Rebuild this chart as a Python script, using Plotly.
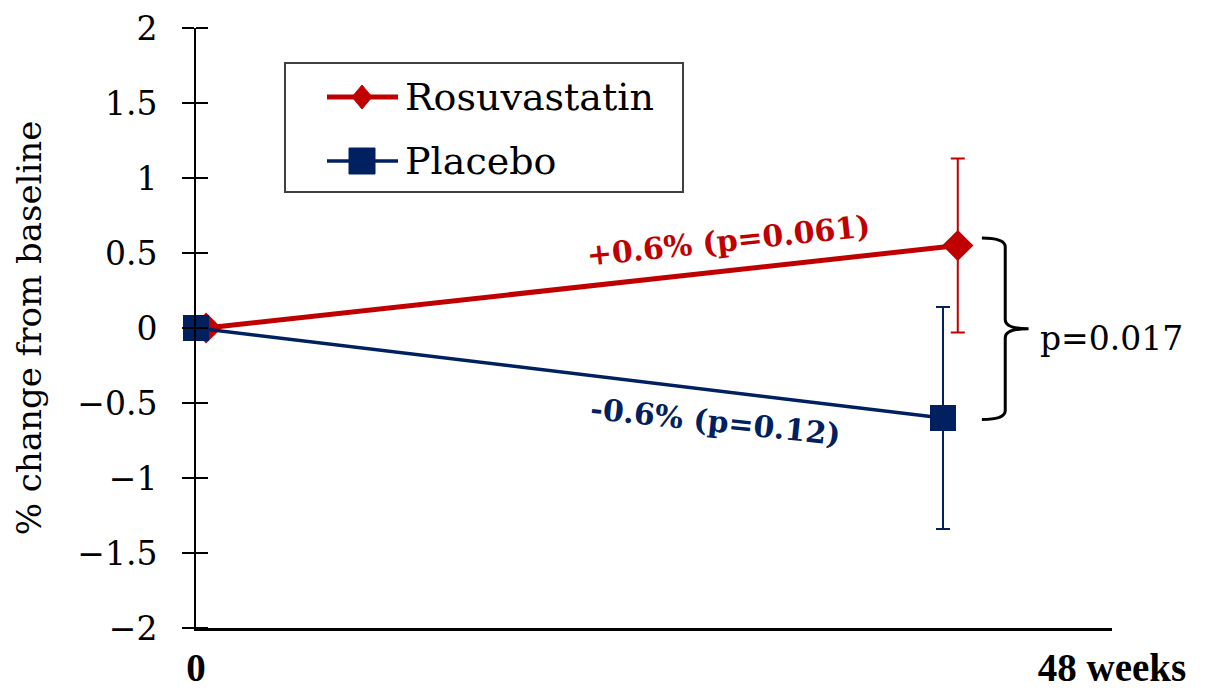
import plotly.graph_objects as go

# ---------------- data ----------------
TIMEPOINTS = [0, 48]                 # weeks
X_TICK_TEXT = ["0", "48 weeks"]
ROSU_MEAN = [0.0, 0.55]
ROSU_ERR = [None, 0.58]
PLAC_MEAN = [0.0, -0.60]
PLAC_ERR = [None, 0.74]
SERIES_NAMES = ["Rosuvastatin", "Placebo"]
ROSU_NOTE = "+0.6% (p=0.061)"
PLAC_NOTE = "-0.6% (p=0.12)"
DIFF_NOTE = "p=0.017"
Y_TICKS = [-2, -1.5, -1, -0.5, 0, 0.5, 1, 1.5, 2]
Y_TITLE = "% change from baseline"

# ---------------- style / geometry ----------------
RED = "#C00000"
NAVY = "#002060"
PAGE_OFF = 8                      # default body margin of the html page
W, H = 1212 - PAGE_OFF, 691 - PAGE_OFF
# plot area in page pixels: x 196..1112, y 28..628
ML, MT = 196 - PAGE_OFF, 28 - PAGE_OFF
MR, MB = 1212 - 1112, 691 - 628
PW, PH = W - ML - MR, H - MT - MB
X_END = 58.86                     # axis runs a bit past the last visit
ROSU_SHIFT = [0.65, 0.95]         # small horizontal dodge of the red series
SERIF = "DejaVu Serif"


def px_x(px):
    """page pixel -> paper fraction"""
    return (px - PAGE_OFF - ML) / PW


def px_y(py):
    return (H - MB - (py - PAGE_OFF)) / PH


x_rosu = [t + s for t, s in zip(TIMEPOINTS, ROSU_SHIFT)]

fig = go.Figure()
fig.add_trace(go.Scatter(
    x=x_rosu, y=ROSU_MEAN, name=SERIES_NAMES[0], mode="lines+markers",
    line=dict(color=RED, width=5),
    marker=dict(symbol="diamond", size=24, color=RED),
    error_y=dict(type="data", array=ROSU_ERR, visible=True, color=RED,
                 thickness=2, width=7),
    showlegend=False, cliponaxis=False))
fig.add_trace(go.Scatter(
    x=TIMEPOINTS, y=PLAC_MEAN, name=SERIES_NAMES[1], mode="lines+markers",
    line=dict(color=NAVY, width=3.5),
    marker=dict(symbol="square", size=26, color=NAVY),
    error_y=dict(type="data", array=PLAC_ERR, visible=True, color=NAVY,
                 thickness=2, width=7),
    showlegend=False, cliponaxis=False))

shapes = []
# legend box
shapes.append(dict(type="rect", xref="paper", yref="paper",
                   x0=px_x(285), x1=px_x(683), y0=px_y(192), y1=px_y(63),
                   line=dict(color="#404040", width=2), fillcolor="white"))
legend_rows = [(97, RED, 5, "M -10,0 L 0,12 L 10,0 L 0,-12 Z"),
               (161, NAVY, 3.5, "M -13,-13 L 13,-13 L 13,13 L -13,13 Z")]
annotations = []
for (py, col, lw, sym), name in zip(legend_rows, SERIES_NAMES):
    shapes.append(dict(type="line", xref="paper", yref="paper",
                       x0=px_x(327), x1=px_x(398), y0=px_y(py), y1=px_y(py),
                       line=dict(color=col, width=lw)))
    shapes.append(dict(type="path", xref="paper", yref="paper",
                       xsizemode="pixel", ysizemode="pixel",
                       xanchor=px_x(362), yanchor=px_y(py), path=sym,
                       fillcolor=col, line=dict(color=col, width=1)))
    annotations.append(dict(xref="paper", yref="paper", x=px_x(404), y=px_y(py),
                            xanchor="left", yanchor="middle", showarrow=False,
                            borderpad=0,
                            text=name, font=dict(family=SERIF, size=38, color="black")))

# bracket linking the two 48-week values
yt = ROSU_MEAN[1] + 0.05
yb = PLAC_MEAN[1] - 0.01
ym = (yt + yb) / 2
bx0, bx1, bx2 = 50.5, 52.0, 53.5
r = 0.06
path = (f"M {bx0},{yt} Q {bx1},{yt} {bx1},{yt - r} L {bx1},{ym + r} "
        f"Q {bx1},{ym} {bx2},{ym} Q {bx1},{ym} {bx1},{ym - r} "
        f"L {bx1},{yb + r} Q {bx1},{yb} {bx0},{yb}")
shapes.append(dict(type="path", xref="x", yref="y", path=path,
                   line=dict(color="black", width=3)))

annotations += [
    dict(x=34.2, y=0.585, xref="x", yref="y", text=f"<b>{ROSU_NOTE}</b>",
         showarrow=False, textangle=-6,
         font=dict(family=SERIF, size=30, color=RED)),
    dict(x=33.4, y=-0.62, xref="x", yref="y", text=f"<b>{PLAC_NOTE}</b>",
         showarrow=False, textangle=6,
         font=dict(family=SERIF, size=30, color=NAVY)),
    dict(x=54.1, y=-0.07, xref="x", yref="y", text=DIFF_NOTE, showarrow=False,
         xanchor="left", yanchor="middle",
         font=dict(family=SERIF, size=33, color="black")),
]

fig.update_layout(
    width=W, height=H, autosize=False,
    margin=dict(l=ML, r=MR, t=MT, b=MB),
    paper_bgcolor="white", plot_bgcolor="white",
    font=dict(family=SERIF, color="black"),
    shapes=shapes, annotations=annotations, showlegend=False,
)
fig.update_xaxes(
    range=[0, X_END], showgrid=False, zeroline=False, automargin=False,
    showline=True, linecolor="black", linewidth=3,
    tickmode="array", tickvals=[0, X_END],
    ticktext=[f"<b>{t}</b>" for t in X_TICK_TEXT], ticks="",
    tickfont=dict(family="Liberation Serif", size=39, color="black"),
    ticklabelstandoff=3, ticklabeloverflow="allow",
)
fig.update_yaxes(
    range=[-2, 2], showgrid=False, zeroline=False, automargin=False,
    showline=True, linecolor="black", linewidth=2,
    tickmode="array", tickvals=Y_TICKS,
    ticktext=[("\u2212" if v < 0 else "") + f"{abs(v):g}" for v in Y_TICKS],
    ticks="outside", ticklen=12, tickwidth=2, tickcolor="black",
    minor=dict(tickmode="array", tickvals=[v + 1e-9 for v in Y_TICKS],
               ticks="inside", ticklen=12, tickwidth=2, tickcolor="black",
               showgrid=False),
    tickfont=dict(family=SERIF, size=33, color="black"),
    ticklabelstandoff=18, ticklabeloverflow="allow",
    title=dict(text=Y_TITLE, font=dict(family=SERIF, size=34, color="black"),
               standoff=25),
)

fig.write_html("out.html")
